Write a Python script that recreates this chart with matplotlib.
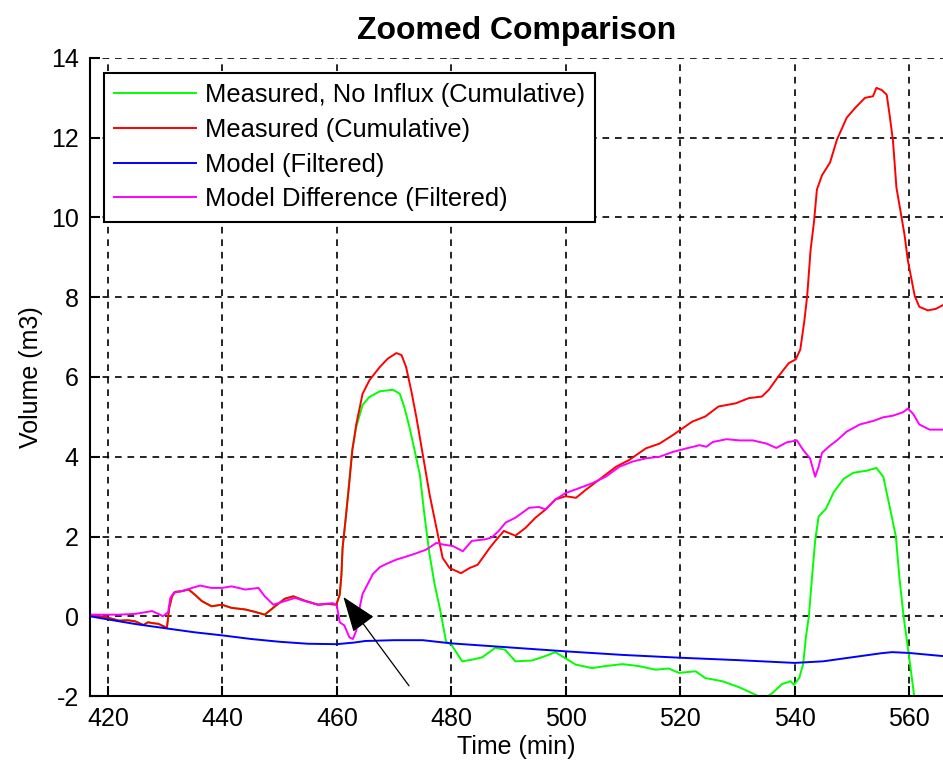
import numpy as np
import matplotlib
matplotlib.use("Agg")
import matplotlib.pyplot as plt

plt.rcParams['font.family'] = ['Liberation Sans', 'DejaVu Sans']
plt.rcParams['axes.unicode_minus'] = False

# measured cumulative volume (m3) vs time (min)
red_t = [416.85, 418.5, 420.1, 421.9, 423.5, 424.8, 426.2, 427.0, 427.7, 428.8, 430.3,
         430.7, 431.2, 431.7, 432.9, 434.1, 435.2, 436.4, 438.1, 439.9, 441.6, 444.0,
         445.7, 447.4, 449.2, 450.9, 452.4, 454.4, 456.7, 458.5, 459.9, 460.5, 460.8,
         461.0, 461.5, 462.1, 462.7, 463.4, 464.5, 465.7, 467.5, 468.9, 470.4, 471.3,
         472.1, 473.0, 473.9, 475.0, 476.2, 477.4, 478.5, 479.7, 481.7, 483.2, 484.6,
         486.7, 487.7, 489.2, 491.2, 493.0, 494.7, 496.5, 498.2, 500.0, 501.8, 503.5,
         505.8, 508.8, 511.1, 514.0, 516.4, 518.7, 520.0, 522.1, 524.4, 526.7, 529.7,
         532.0, 534.3, 535.5, 537.2, 539.0, 540.2, 541.0, 541.7, 542.2, 542.8, 543.4,
         543.9, 544.8, 546.2, 547.4, 549.1, 550.6, 552.3, 553.7, 554.3, 555.2, 556.1,
         556.6, 557.2, 557.8, 558.7, 559.2, 559.8, 561.0, 561.8, 563.3, 564.7, 565.9]
red_v = [0.02, 0.0, -0.04, -0.11, -0.10, -0.13, -0.22, -0.15, -0.17, -0.19, -0.29,
         0.21, 0.50, 0.61, 0.63, 0.67, 0.54, 0.38, 0.25, 0.29, 0.21, 0.17,
         0.11, 0.04, 0.25, 0.44, 0.50, 0.39, 0.29, 0.31, 0.29, 0.54, 1.04,
         1.71, 2.39, 3.23, 4.15, 4.82, 5.58, 5.92, 6.25, 6.46, 6.60, 6.55,
         6.25, 5.66, 4.99, 4.07, 3.06, 2.22, 1.46, 1.21, 1.08, 1.21, 1.29,
         1.71, 1.89, 2.14, 2.02, 2.22, 2.47, 2.68, 2.93, 3.01, 2.97, 3.17,
         3.42, 3.75, 3.92, 4.21, 4.33, 4.54, 4.67, 4.88, 5.01, 5.26, 5.34,
         5.47, 5.51, 5.68, 6.02, 6.35, 6.44, 6.69, 7.40, 8.03, 9.19, 9.90,
         10.70, 11.06, 11.38, 11.95, 12.50, 12.75, 13.00, 13.04, 13.25, 13.20, 13.08,
         12.58, 11.92, 10.75, 10.00, 9.58, 8.92, 8.03, 7.76, 7.67, 7.71, 7.80]

# measured, no influx (cumulative)
green_t = [416.85, 418.5, 420.1, 421.9, 423.5, 424.8, 426.2, 427.0, 427.7, 428.8, 430.3,
           430.7, 431.2, 431.7, 432.9, 434.1, 435.2, 436.4, 438.1, 439.9, 441.6, 444.0,
           445.7, 447.4, 449.2, 450.9, 452.4, 454.4, 456.7, 458.5, 459.9, 460.5, 460.8,
           461.0, 461.5, 462.1, 462.7, 463.4, 464.5, 465.7, 467.5, 468.6, 469.8, 471.0,
           471.8, 472.7, 473.6, 474.5, 475.3, 476.2, 477.1, 478.0, 479.1, 480.0, 481.9,
           483.6, 485.4, 487.7, 489.4, 491.2, 494.1, 496.4, 498.2, 499.9, 501.7, 504.6,
           506.9, 509.9, 512.8, 515.7, 518.0, 519.8, 522.7, 524.4, 527.4, 530.3, 532.6,
           534.6, 536.1, 537.8, 539.3, 539.9, 540.8, 541.5, 542.0, 542.5, 543.0, 543.6,
           544.2, 545.5, 546.8, 548.6, 550.3, 552.6, 554.3, 555.5, 556.6, 557.7, 558.3,
           559.05, 560.0, 560.9, 561.5]
green_v = [0.02, 0.0, -0.04, -0.11, -0.10, -0.13, -0.22, -0.15, -0.17, -0.19, -0.29,
           0.21, 0.50, 0.61, 0.63, 0.67, 0.54, 0.38, 0.25, 0.29, 0.21, 0.17,
           0.11, 0.04, 0.25, 0.44, 0.50, 0.39, 0.29, 0.31, 0.29, 0.54, 1.04,
           1.71, 2.39, 3.30, 4.20, 4.75, 5.30, 5.50, 5.64, 5.66, 5.68, 5.58,
           5.24, 4.74, 4.15, 3.56, 2.55, 1.55, 0.79, 0.20, -0.64, -0.71, -1.13,
           -1.09, -1.03, -0.79, -0.84, -1.13, -1.11, -1.00, -0.90, -1.05, -1.21, -1.30,
           -1.25, -1.20, -1.25, -1.34, -1.31, -1.42, -1.38, -1.55, -1.63, -1.78, -1.93,
           -2.07, -1.93, -1.70, -1.63, -1.72, -1.55, -1.20, -0.50, 0.00, 0.90, 1.90,
           2.50, 2.70, 3.10, 3.45, 3.60, 3.65, 3.72, 3.50, 2.76, 2.00, 1.00,
           0.00, -1.00, -2.00, -2.60]

# model (filtered)
blue_t = [416.85, 420, 425, 430, 435, 440, 445, 450, 455, 460, 463, 465, 470, 475,
          480, 490, 500, 510, 520, 530, 540, 545, 550, 555, 557, 560, 566]
blue_v = [0.0, -0.08, -0.20, -0.30, -0.40, -0.48, -0.57, -0.64, -0.69, -0.70, -0.66,
          -0.62, -0.60, -0.60, -0.68, -0.78, -0.88, -0.97, -1.04, -1.10, -1.17, -1.13,
          -1.03, -0.93, -0.90, -0.92, -1.00]

# model difference (filtered)
mag_t = [416.85, 419.5, 421.9, 424.8, 427.7, 428.8, 429.6, 430.5, 430.9, 431.5, 432.9,
         434.7, 436.1, 438.1, 439.9, 441.6, 444.0, 446.3, 447.4, 448.9, 450.9, 452.7,
         454.4, 456.7, 459.3, 460.0, 460.5, 461.3, 462.2, 462.8, 463.4, 464.0, 464.5,
         465.4, 466.3, 467.5, 468.6, 470.4, 473.3, 475.6, 477.4, 478.5, 480.3, 482.0,
         483.6, 486.0, 487.1, 488.3, 489.5, 491.2, 493.6, 495.3, 496.5, 498.2, 500.0,
         502.3, 504.7, 507.0, 509.4, 511.7, 514.0, 516.4, 518.7, 521.1, 523.4, 524.6,
         525.7, 528.1, 530.4, 532.7, 535.1, 536.8, 538.6, 540.4, 541.5, 542.7, 543.6,
         544.2, 544.8, 546.2, 547.4, 549.1, 551.4, 553.8, 555.5, 557.2, 559.0, 559.8,
         560.7, 561.8, 563.6, 565.9]
mag_v = [0.04, 0.04, 0.04, 0.06, 0.13, 0.06, 0.00, 0.10, 0.46, 0.59, 0.63,
         0.71, 0.77, 0.71, 0.71, 0.75, 0.67, 0.71, 0.50, 0.29, 0.38, 0.46,
         0.38, 0.29, 0.33, 0.27, -0.15, -0.23, -0.53, -0.57, -0.36, 0.23, 0.56,
         0.81, 1.06, 1.23, 1.31, 1.42, 1.55, 1.67, 1.84, 1.80, 1.76, 1.63,
         1.89, 1.93, 1.98, 2.14, 2.35, 2.47, 2.72, 2.74, 2.68, 2.93, 3.09,
         3.21, 3.34, 3.50, 3.75, 3.88, 3.96, 4.00, 4.12, 4.21, 4.29, 4.25,
         4.37, 4.44, 4.41, 4.41, 4.33, 4.22, 4.36, 4.41, 4.17, 3.96, 3.50,
         3.75, 4.10, 4.28, 4.41, 4.63, 4.81, 4.90, 4.99, 5.03, 5.12, 5.21,
         5.08, 4.81, 4.68, 4.68]

labels = ['Measured, No Influx (Cumulative)', 'Measured (Cumulative)',
          'Model (Filtered)', 'Model Difference (Filtered)']

fig = plt.figure(figsize=(9.43, 7.6), dpi=100)
ax = fig.add_axes([0.0954, 0.0842, 0.9046, 0.8395])

ax.plot(green_t, green_v, color=(0, 1, 0), lw=1.4, label=labels[0])
ax.plot(red_t, red_v, color=(1, 0, 0), lw=1.4, label=labels[1])
ax.plot(blue_t, blue_v, color=(0, 0, 1), lw=1.4, label=labels[2])
ax.plot(mag_t, mag_v, color=(1, 0, 1), lw=1.4, label=labels[3])

ax.set_xlim(416.85, 565.94)
ax.set_ylim(-2, 14)
ax.set_xticks(np.arange(420, 561, 20))
ax.set_yticks(np.arange(-2, 15, 2))
ax.grid(True, color='black', linestyle=(0, (4, 3.5)), linewidth=1.2)
ax.set_axisbelow(True)

for side in ['top', 'right']:
    ax.spines[side].set_visible(False)
for side in ['left', 'bottom']:
    ax.spines[side].set_linewidth(1.5)
ax.tick_params(direction='in', length=7, width=1.5, labelsize=18, pad=8)

ax.set_title('Zoomed Comparison', fontsize=23, fontweight='bold', pad=14)
ax.set_xlabel('Time (min)', fontsize=18, labelpad=3)
ax.set_ylabel('Volume (m3)', fontsize=18, labelpad=6)

leg = ax.legend(loc='upper left', bbox_to_anchor=(0.0164, 0.9765), borderaxespad=0,
                fontsize=18.4, handlelength=3.2, handletextpad=0.35, labelspacing=0.42,
                borderpad=0.4, fancybox=False, framealpha=1, edgecolor='black')
leg.get_frame().set_linewidth(1.5)

ax.annotate('', xy=(460.85, 0.54), xytext=(472.9, -1.8),
            arrowprops=dict(arrowstyle='-|>,head_length=1.5,head_width=0.55',
                            color='black', lw=0.9, mutation_scale=15))

fig.savefig('out.png', dpi=100)
